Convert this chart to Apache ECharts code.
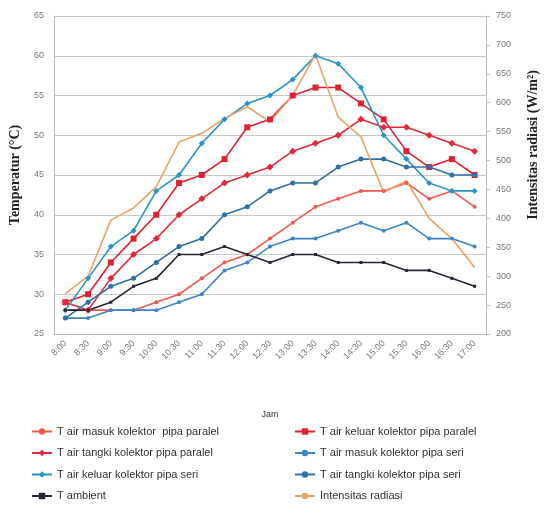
<!DOCTYPE html>
<html>
<head>
<meta charset="utf-8">
<script src="https://cdn.jsdelivr.net/npm/echarts@6/dist/echarts.min.js"></script>
<style>html,body{margin:0;padding:0;background:#fff}#c{width:548px;height:506px}</style>
</head>
<body>
<div id="c"></div>
<script>
const categories = ['8:00','8:30','9:00','9:30','10:00','10:30','11:00','11:30','12:00','12:30','13:00','13:30','14:00','14:30','15:00','15:30','16:00','16:30','17:00'];
const masukParalel  = [28, 28, 28, 28, 29, 30, 32, 34, 35, 37, 39, 41, 42, 43, 43, 44, 42, 43, 41];
const keluarParalel = [29, 30, 34, 37, 40, 44, 45, 47, 51, 52, 55, 56, 56, 54, 52, 48, 46, 47, 45];
const tangkiParalel = [29, 28, 32, 35, 37, 40, 42, 44, 45, 46, 48, 49, 50, 52, 51, 51, 50, 49, 48];
const masukSeri     = [27, 27, 28, 28, 28, 29, 30, 33, 34, 36, 37, 37, 38, 39, 38, 39, 37, 37, 36];
const keluarSeri    = [28, 32, 36, 38, 43, 45, 49, 52, 54, 55, 57, 60, 59, 56, 50, 47, 44, 43, 43];
const tangkiSeri    = [27, 29, 31, 32, 34, 36, 37, 40, 41, 43, 44, 44, 46, 47, 47, 46, 46, 45, 45];
const tAmbient      = [28, 28, 29, 31, 32, 35, 35, 36, 35, 34, 35, 35, 34, 34, 34, 33, 33, 32, 31];
const radiasi       = [270, 300, 397, 418, 455, 532, 547, 573, 593, 567, 613, 683, 575, 541, 445, 465, 400, 365, 315];
const leftTicks = {min: 25, max: 65, interval: 5};
const rightTicks = {min: 200, max: 750, interval: 50};

const names = {
  mp: 'T air masuk kolektor  pipa paralel',
  kp: 'T air keluar kolektor pipa paralel',
  tp: 'T air tangki kolektor pipa paralel',
  ms: 'T air masuk kolektor pipa seri',
  ks: 'T air keluar kolektor pipa seri',
  ts: 'T air tangki kolektor pipa seri',
  ta: 'T ambient',
  ir: 'Intensitas radiasi'
};

function line(name, data, color, symbol, size, yIdx) {
  return {
    name: name, type: 'line', data: data, yAxisIndex: yIdx || 0,
    symbol: symbol, symbolSize: size, showSymbol: symbol !== 'none',
    lineStyle: {color: color, width: 1.6},
    itemStyle: {color: color},
    animation: false
  };
}

const chart = echarts.init(document.getElementById('c'));
const lbl = {fontFamily: 'Liberation Sans', fontSize: 9, color: '#777'};
const legText = {fontFamily: 'Liberation Sans Narrow, Liberation Sans', fontSize: 11, color: '#333'};
chart.setOption({
  backgroundColor: '#fff',
  grid: {left: 52, right: 58, top: 16, bottom: 172},
  legend: [
    {orient: 'vertical', left: 31, top: 426, padding: 0, height: 80, itemGap: 10.5, itemWidth: 20, itemHeight: 8,
     textStyle: legText, data: [names.mp, names.tp, names.ks, names.ta]},
    {orient: 'vertical', left: 294, top: 426, padding: 0, height: 80, itemGap: 10.5, itemWidth: 20, itemHeight: 8,
     textStyle: legText, data: [names.kp, names.ms, names.ts, names.ir]}
  ],
  xAxis: {
    type: 'category', data: categories, boundaryGap: true,
    name: 'Jam', nameLocation: 'middle', nameGap: 76,
    nameTextStyle: {fontFamily: 'Liberation Sans', fontSize: 9, color: '#333'},
    axisLine: {lineStyle: {color: '#bbb'}},
    axisTick: {show: false},
    axisLabel: Object.assign({rotate: 45, interval: 0, margin: 8}, lbl)
  },
  yAxis: [
    {type: 'value', min: leftTicks.min, max: leftTicks.max, interval: leftTicks.interval,
     name: 'Temperatur (°C)', nameLocation: 'middle', nameGap: 32, nameRotate: 90,
     nameTextStyle: {fontFamily: 'Liberation Serif', fontWeight: 'bold', fontSize: 14, color: '#222'},
     axisLine: {show: true, lineStyle: {color: '#bbb'}},
     axisTick: {show: false},
     splitLine: {lineStyle: {color: '#c8c8c8'}},
     axisLabel: Object.assign({margin: 10}, lbl)},
    {type: 'value', min: rightTicks.min, max: rightTicks.max, interval: rightTicks.interval,
     position: 'right',
     name: 'Intensitas radiasi (W/m²)', nameLocation: 'middle', nameGap: 40, nameRotate: 90,
     nameTextStyle: {fontFamily: 'Liberation Serif', fontWeight: 'bold', fontSize: 14, color: '#222', padding: [0, 0, 0, 60]},
     axisLine: {show: true, lineStyle: {color: '#bbb'}},
     axisTick: {show: true, length: 4, lineStyle: {color: '#bbb'}},
     splitLine: {show: false},
     axisLabel: Object.assign({margin: 10}, lbl)}
  ],
  series: [
    line(names.mp, masukParalel, '#ee5a4e', 'circle', 4),
    line(names.kp, keluarParalel, '#e0202f', 'rect', 6),
    line(names.tp, tangkiParalel, '#e3283a', 'diamond', 7),
    line(names.ms, masukSeri, '#3b86c8', 'circle', 4),
    line(names.ks, keluarSeri, '#2a93c4', 'diamond', 6),
    line(names.ts, tangkiSeri, '#2f6fa8', 'circle', 5),
    line(names.ta, tAmbient, '#262636', 'rect', 3),
    line(names.ir, radiasi, '#e8a466', 'none', 0, 1)
  ]
});
</script>
</body>
</html>
